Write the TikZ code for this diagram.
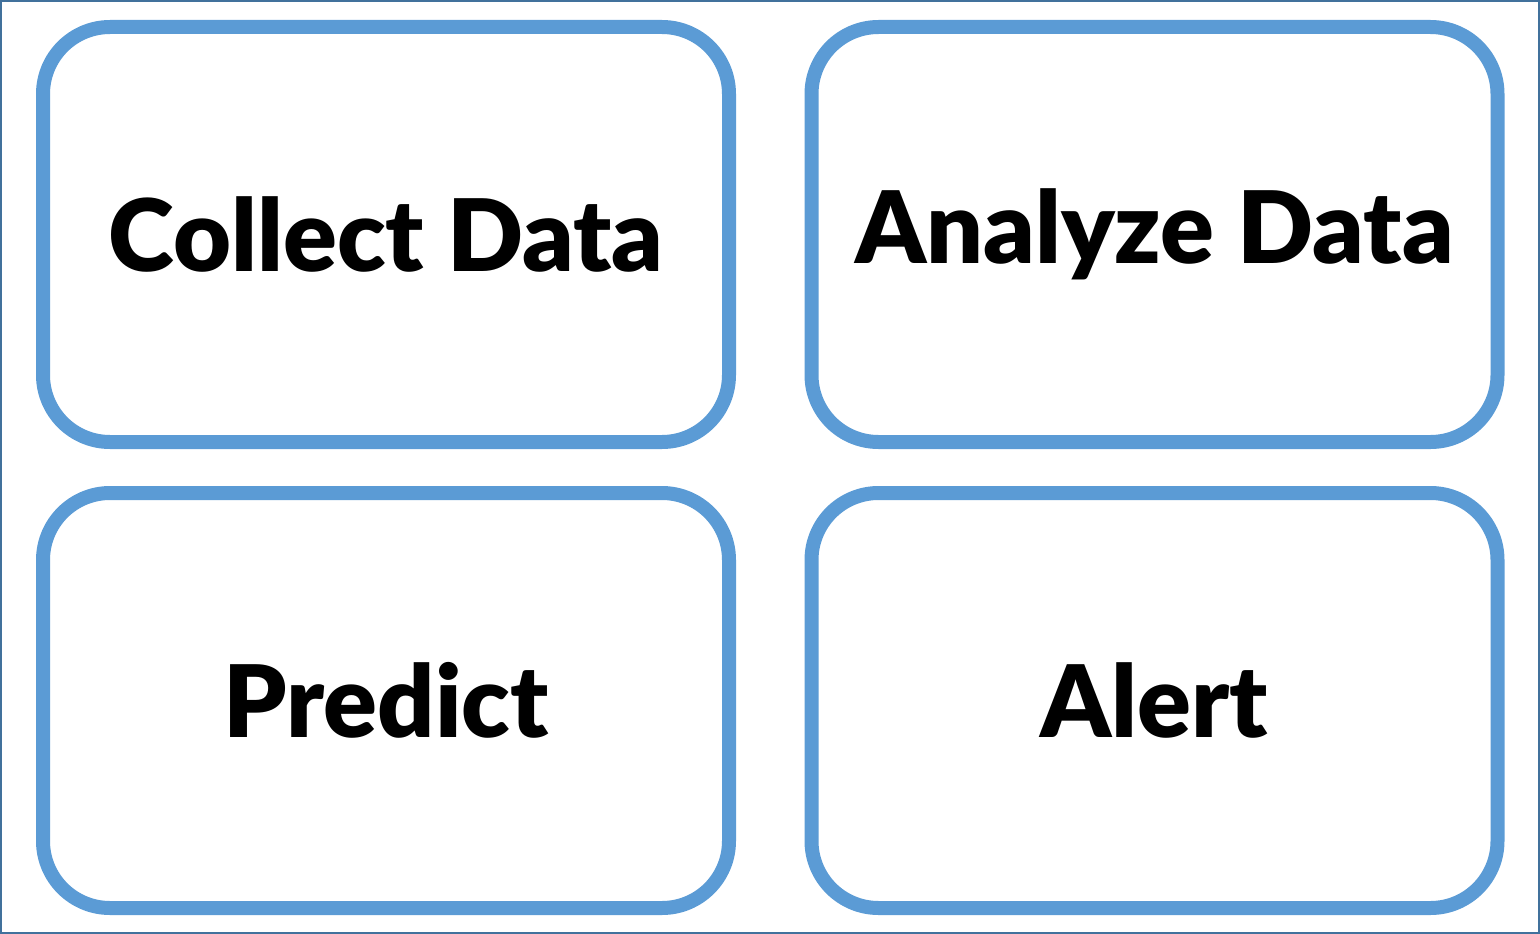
\documentclass[tikz,border=0pt]{standalone}
\usepackage{fontspec}
\setmainfont{Lato}[BoldFont={Lato Black}]
\usepackage{tikz}
\definecolor{boxblue}{HTML}{5B9BD5}
\definecolor{frameblue}{HTML}{41719C}

\begin{document}
\begin{tikzpicture}[x=1pt, y=-1pt,
    stage/.style={draw=boxblue, line width=14pt, fill=white, rounded corners=67pt,
      minimum width=686pt, minimum height=415pt, inner sep=0pt,
      font=\fontsize{100}{100}\selectfont\bfseries}]
    \useasboundingbox (0,0) rectangle (1540,934);
    \draw [frameblue, line width=2pt] (1,1) rectangle (1539,933);
    \node [stage] (collect) at (386,234.5) {Collect Data};
    \node [stage] (analyze) at (1154.5,234.5) {Analyze Data};
    \node [stage] (predict) at (386,700.5) {Predict};
    \node [stage] (alert) at (1154.5,700.5) {Alert};
  \end{tikzpicture}
\end{document}
